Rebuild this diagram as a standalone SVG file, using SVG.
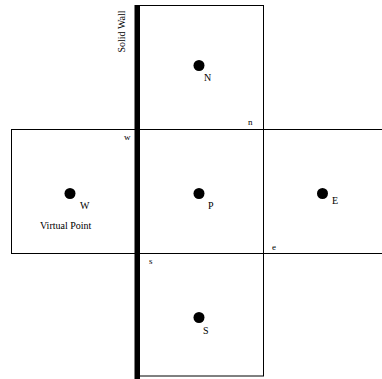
<svg xmlns="http://www.w3.org/2000/svg" width="382" height="379" viewBox="0 0 382 379">
<style>
.cell{fill:none;stroke:#000;stroke-width:1}
.dot{fill:#000}
.lbl{font-family:"Liberation Serif",serif;font-size:10px;fill:#000}
.sm{font-family:"Liberation Serif",serif;font-size:9px;fill:#000}
</style>
<rect width="382" height="379" fill="#fff"/>
<g id="connectors">
<line class="cell" x1="11" y1="129.5" x2="382" y2="129.5"/>
<line class="cell" x1="11" y1="253.5" x2="382" y2="253.5"/>
</g>
<g id="cellN">
<rect class="cell" x="137.5" y="5.5" width="126" height="124"/>
<circle class="dot" cx="199" cy="65.5" r="5.5"/>
<text class="lbl" x="204" y="81">N</text>
<text class="sm" x="248" y="125">n</text>
</g>
<g id="cellP">
<rect class="cell" x="137.5" y="129.5" width="126" height="124"/>
<circle class="dot" cx="199" cy="193.5" r="5.5"/>
<text class="lbl" x="208" y="209">P</text>
<text class="sm" x="124" y="140">w</text>
<text class="sm" x="272" y="250">e</text>
<text class="sm" x="149" y="264">s</text>
</g>
<g id="cellS">
<rect class="cell" x="137.5" y="253.5" width="126" height="122.5"/>
<circle class="dot" cx="199" cy="317.5" r="5.5"/>
<text class="lbl" x="203" y="334">S</text>
</g>
<g id="cellW">
<rect class="cell" x="11.5" y="129.5" width="126" height="124"/>
<circle class="dot" cx="70" cy="193.5" r="5.5"/>
<text class="lbl" x="80" y="209">W</text>
<text class="lbl" x="40" y="229">Virtual Point</text>
</g>
<g id="cellE">
<rect class="cell" x="263.5" y="129.5" width="130" height="124"/>
<circle class="dot" cx="322.5" cy="193.5" r="5.5"/>
<text class="lbl" x="332" y="204">E</text>
</g>
<g id="wall">
<rect x="134.5" y="5" width="5.5" height="374" fill="#000"/>
<text class="lbl" transform="translate(125,31.5) rotate(-90)" text-anchor="middle">Solid Wall</text>
</g>
</svg>
